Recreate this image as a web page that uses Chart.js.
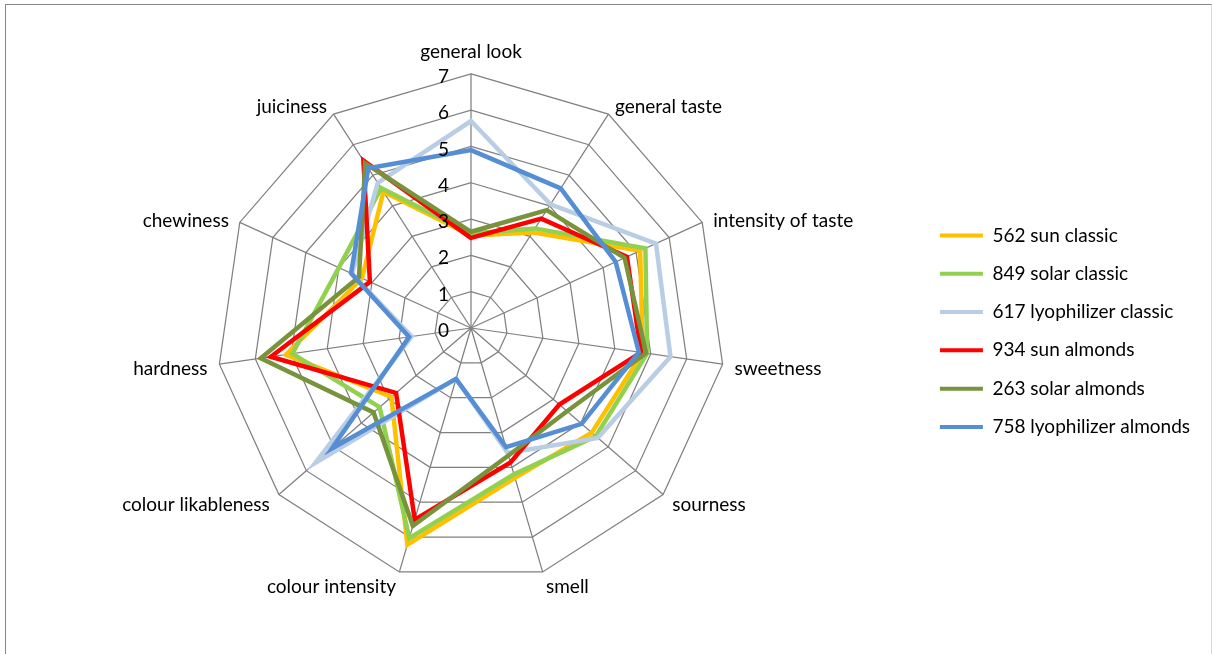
<!DOCTYPE html>
<html>
<head>
<meta charset="utf-8">
<script src="https://cdn.jsdelivr.net/npm/chart.js@4.4.1/dist/chart.umd.min.js"></script>
<style>
  html, body { margin: 0; padding: 0; background: #fff; }
  body { width: 1212px; height: 654px; position: relative; overflow: hidden; }
  #frame { position: absolute; left: 5px; top: 4px; width: 1205px; height: 700px;
           border-left: 1px solid #878787; border-top: 1px solid #878787; border-right: 1px solid #d9d9d9; }
  #graphique-radar { position: absolute; left: 0; top: 0; }
</style>
</head>
<body>
<div id="frame"></div>
<canvas id="graphique-radar" width="1212" height="654"></canvas>
<script>
// axes of the radar
const criteres = ["general look", "general taste", "intensity of taste", "sweetness", "sourness",
  "smell", "colour intensity", "colour likableness", "hardness", "chewiness", "juiciness"];

// one array per sample
const sunClassic = [2.55, 3.13, 5.12, 4.78, 4.40, 4.30, 6.22, 2.90, 5.15, 3.30, 4.46];
const solarClassic = [2.60, 3.26, 5.28, 4.90, 4.55, 4.20, 6.03, 3.33, 4.97, 4.00, 4.58];
const lyoClassic = [5.70, 4.05, 5.60, 5.55, 4.62, 3.59, 1.46, 5.67, 1.65, 3.60, 4.75];
const sunAlmonds = [2.48, 3.58, 4.72, 4.73, 3.22, 3.86, 5.50, 2.73, 5.57, 3.06, 5.48];
const solarAlmonds = [2.65, 3.86, 4.65, 4.87, 3.50, 3.66, 5.68, 3.55, 5.85, 3.39, 5.39];
const lyoAlmonds = [4.90, 4.57, 4.38, 4.67, 4.03, 3.42, 1.46, 5.07, 1.72, 3.63, 5.23];

const nomsSeries = ["562 sun classic", "849 solar classic", "617 lyophilizer classic",
  "934 sun almonds", "263 solar almonds", "758 lyophilizer almonds"];
const couleurs = ["#FFC000", "#92D050", "#B9CDE5", "#FF0000", "#77933C", "#558ED5"];

// tick labels 0..7
const graduations = [0, 1, 2, 3, 4, 5, 6, 7];

const police = "Lato";

const valeurs = [sunClassic, solarClassic, lyoClassic, sunAlmonds, solarAlmonds, lyoAlmonds];
const datasets = valeurs.map((v, i) => ({
  label: nomsSeries[i],
  data: v,
  borderColor: couleurs[i],
  backgroundColor: couleurs[i],
  borderWidth: 4.5,
  pointRadius: 0,
  fill: false,
  tension: 0,
  // last series drawn on top, like excel
  order: valeurs.length - i
}));

// tick labels on the left of the vertical axis, axis names centred on the spokes
const etiquettesExcel = {
  id: "etiquettesExcel",
  afterDatasetsDraw(chart) {
    const scale = chart.scales.r;
    const ctx = chart.ctx;
    ctx.save();
    ctx.font = "19px " + police;
    ctx.fillStyle = "#000";
    ctx.textBaseline = "middle";
    ctx.textAlign = "right";
    for (const t of scale.ticks) {
      const d = scale.getDistanceFromCenterForValue(t.value);
      ctx.fillText(t.label, scale.xCenter - 22, scale.yCenter - d + 3);
    }
    scale._pointLabels.forEach((label, i) => {
      const p = scale.getPointPosition(i, scale.drawingArea + 12);
      let y = p.y + 3;
      if (Math.abs(p.x - scale.xCenter) < 5) {
        ctx.textAlign = "center";
        y = p.y < scale.yCenter ? p.y - 10 : p.y + 14;
      } else {
        ctx.textAlign = p.x > scale.xCenter ? "left" : "right";
      }
      ctx.fillText(label, p.x, y);
    });
    ctx.restore();
  }
};

const config = {
  type: "radar",
  data: { labels: criteres, datasets: datasets },
  options: {
    responsive: false,
    animation: false,
    layout: { padding: { left: 22, right: 12, top: 36, bottom: 44 } },
    plugins: {
      legend: {
        position: "right",
        reverse: true,
        // empty title only to push the entries a bit lower
        title: { display: true, text: " ", font: { size: 12 }, padding: 1 },
        labels: {
          color: "#000",
          font: { family: police, size: 19 },
          boxWidth: 43,
          boxHeight: 4,
          padding: 19.3,
          generateLabels(chart) {
            const items = Chart.defaults.plugins.legend.labels.generateLabels(chart);
            items.forEach(it => { it.lineWidth = 0; it.strokeStyle = it.fillStyle; });
            return items;
          }
        }
      },
      tooltip: { enabled: false }
    },
    scales: {
      r: {
        min: 0,
        max: 7,
        ticks: { stepSize: 1, display: false },
        grid: { color: "#808080", lineWidth: 1.25 },
        angleLines: { color: "#808080", lineWidth: 1.25 },
        // kept for the layout, drawn by the plugin
        pointLabels: { color: "rgba(0,0,0,0)", font: { family: police, size: 19 }, padding: 10 }
      }
    }
  },
  plugins: [etiquettesExcel]
};

new Chart(document.querySelector("#graphique-radar"), config);
</script>
</body>
</html>
